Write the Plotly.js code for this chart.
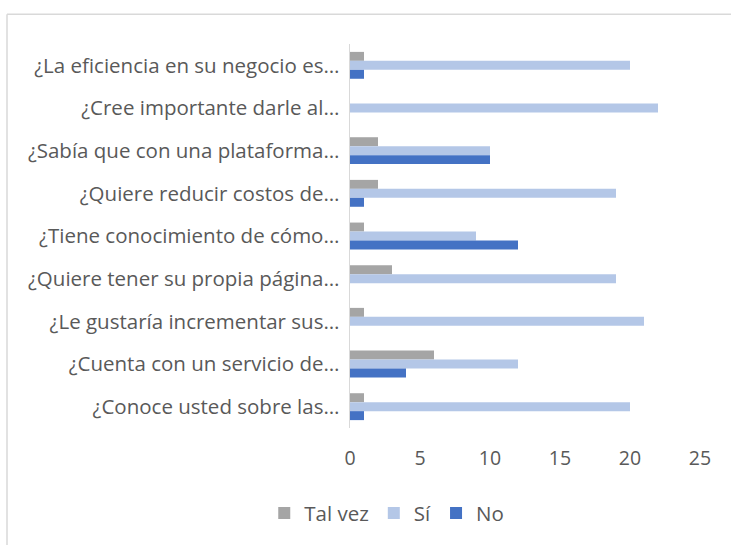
<!DOCTYPE html>
<html>
<head>
<meta charset="utf-8">
<script src="https://cdn.plot.ly/plotly-3.0.1.min.js"></script>
<style>
html,body{margin:0;padding:0;background:#fff;}
#chart{width:731px;height:545px;}
</style>
</head>
<body>
<div id="chart"></div>
<script>
// Categories, listed top to bottom as shown
const categories = [
  "¿La eficiencia en su negocio es…",
  "¿Cree importante darle al…",
  "¿Sabía que con una plataforma…",
  "¿Quiere reducir costos de…",
  "¿Tiene conocimiento de cómo…",
  "¿Quiere tener su propia página…",
  "¿Le gustaría incrementar sus…",
  "¿Cuenta con un servicio de…",
  "¿Conoce usted sobre las…"
];
const seriesNames = ["Tal vez", "Sí", "No"];
const talVez = [1, 0, 2, 2, 1, 3, 1, 6, 1];
const si     = [20, 22, 10, 19, 9, 19, 21, 12, 20];
const no     = [1, 0, 10, 1, 12, 0, 0, 4, 1];
const xTicks = [0, 5, 10, 15, 20, 25];

const colors = ["#A5A5A5", "#B4C7E7", "#4472C4"];
const values = [talVez, si, no];

const traces = values.map((v, i) => ({
  type: "bar",
  orientation: "h",
  name: seriesNames[i],
  x: v,
  y: categories,
  marker: {color: colors[i]},
  hoverinfo: "x+y+name"
}));

const font = {family: "Open Sans, Noto Sans, sans-serif", color: "#595959"};

const layout = {
  width: 731,
  height: 545,
  margin: {l: 350, r: 31, t: 44, b: 114},
  paper_bgcolor: "#ffffff",
  plot_bgcolor: "#ffffff",
  barmode: "group",
  bargap: 0.37,
  bargroupgap: 0,
  showlegend: true,
  legend: {
    orientation: "h",
    x: -0.245, xanchor: "left",
    y: -0.222, yanchor: "middle",
    font: Object.assign({size: 20.5}, font),
    traceorder: "normal",
    itemwidth: 30
  },
  xaxis: {
    range: [0, 25],
    tickvals: xTicks,
    ticktext: xTicks.map(String),
    showgrid: false,
    zeroline: false,
    showline: false,
    ticks: "",
    ticklabelstandoff: 16,
    tickfont: Object.assign({size: 19.5}, font),
    fixedrange: true
  },
  yaxis: {
    type: "category",
    autorange: "reversed",
    showgrid: false,
    zeroline: false,
    showline: true,
    linecolor: "#D9D9D9",
    linewidth: 1.5,
    ticks: "",
    ticklabelstandoff: 5,
    tickfont: Object.assign({size: 20.5}, font),
    automargin: false,
    fixedrange: true
  },
  shapes: [
    {type: "line", xref: "paper", yref: "paper",
     x0: (7 - 350) / 350, x1: (7 - 350) / 350, y0: -0.4, y1: (431 - 14) / 387,
     line: {color: "#D9D9D9", width: 1.5}},
    {type: "line", xref: "paper", yref: "paper",
     x0: (7 - 350) / 350, x1: 1.2, y0: (431 - 14) / 387, y1: (431 - 14) / 387,
     line: {color: "#D9D9D9", width: 1.5}}
  ]
};

Plotly.newPlot("chart", traces, layout, {displayModeBar: false, staticPlot: true});
</script>
</body>
</html>
